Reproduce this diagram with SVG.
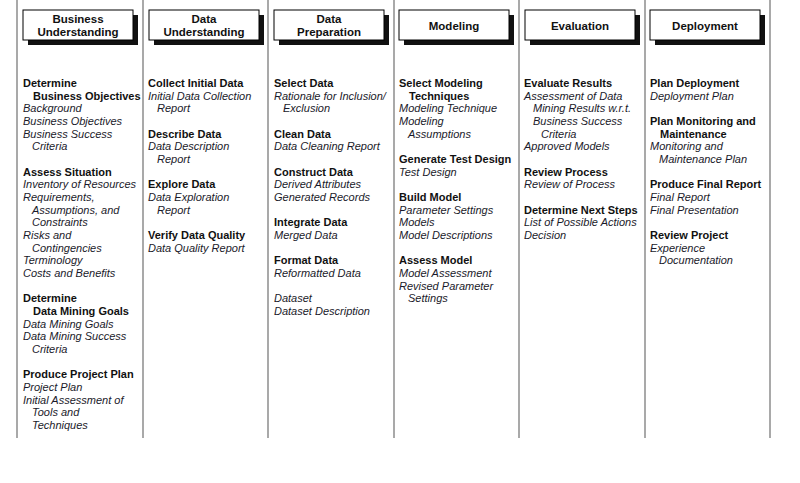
<svg xmlns="http://www.w3.org/2000/svg" width="800" height="483" viewBox="0 0 800 483">
<style>
.sep{stroke:#8c8c8c;stroke-width:1.5;fill:none}
.box{fill:#fff;stroke:#000;stroke-width:1}
.shadow{fill:#111}
.hd{font-family:"Liberation Sans",Arial,sans-serif;font-weight:bold;font-size:11.5px;fill:#111;text-anchor:middle}
.b{font-family:"Liberation Sans",Arial,sans-serif;font-weight:bold;font-size:11px;fill:#111}
.i{font-family:"Liberation Sans",Arial,sans-serif;font-style:italic;font-size:11px;fill:#1a1a2a}
</style>
<rect width="800" height="483" fill="#fff"/>
<g id="separators">
<line class="sep" x1="17" y1="0" x2="17" y2="438"/>
<line class="sep" x1="143" y1="0" x2="143" y2="438"/>
<line class="sep" x1="268" y1="0" x2="268" y2="438"/>
<line class="sep" x1="394" y1="0" x2="394" y2="438"/>
<line class="sep" x1="519" y1="0" x2="519" y2="438"/>
<line class="sep" x1="645" y1="0" x2="645" y2="438"/>
<line class="sep" x1="770" y1="0" x2="770" y2="438"/>
</g>

<g id="col-business">
<rect class="shadow" x="28" y="15" width="110" height="30"/>
<rect class="box" x="23" y="10" width="110" height="30"/>
<text class="hd" x="78" y="23">Business</text>
<text class="hd" x="78" y="36">Understanding</text>
<text class="b" x="23" y="87">Determine</text>
<text class="b" x="33" y="99.7">Business Objectives</text>
<text class="i" x="23" y="112.3">Background</text>
<text class="i" x="23" y="125">Business Objectives</text>
<text class="i" x="23" y="137.7">Business Success</text>
<text class="i" x="32" y="150.4">Criteria</text>
<text class="b" x="23" y="175.7">Assess Situation</text>
<text class="i" x="23" y="188.4">Inventory of Resources</text>
<text class="i" x="23" y="201">Requirements,</text>
<text class="i" x="32" y="213.7">Assumptions, and</text>
<text class="i" x="32" y="226.4">Constraints</text>
<text class="i" x="23" y="239">Risks and</text>
<text class="i" x="32" y="251.7">Contingencies</text>
<text class="i" x="23" y="264.4">Terminology</text>
<text class="i" x="23" y="277">Costs and Benefits</text>
<text class="b" x="23" y="302.4">Determine</text>
<text class="b" x="33" y="315">Data Mining Goals</text>
<text class="i" x="23" y="327.7">Data Mining Goals</text>
<text class="i" x="23" y="340.4">Data Mining Success</text>
<text class="i" x="32" y="353">Criteria</text>
<text class="b" x="23" y="378.4">Produce Project Plan</text>
<text class="i" x="23" y="391">Project Plan</text>
<text class="i" x="23" y="403.7">Initial Assessment of</text>
<text class="i" x="32" y="416.4">Tools and</text>
<text class="i" x="32" y="429">Techniques</text>
</g>

<g id="col-data-understanding">
<rect class="shadow" x="154" y="15" width="110" height="30"/>
<rect class="box" x="149" y="10" width="110" height="30"/>
<text class="hd" x="204" y="23">Data</text>
<text class="hd" x="204" y="36">Understanding</text>
<text class="b" x="148" y="87">Collect Initial Data</text>
<text class="i" x="148" y="99.7">Initial Data Collection</text>
<text class="i" x="157" y="112.3">Report</text>
<text class="b" x="148" y="137.7">Describe Data</text>
<text class="i" x="148" y="150.4">Data Description</text>
<text class="i" x="157" y="163">Report</text>
<text class="b" x="148" y="188.4">Explore Data</text>
<text class="i" x="148" y="201">Data Exploration</text>
<text class="i" x="157" y="213.7">Report</text>
<text class="b" x="148" y="239">Verify Data Quality</text>
<text class="i" x="148" y="251.7">Data Quality Report</text>
</g>

<g id="col-data-preparation">
<rect class="shadow" x="279" y="15" width="110" height="30"/>
<rect class="box" x="274" y="10" width="110" height="30"/>
<text class="hd" x="329" y="23">Data</text>
<text class="hd" x="329" y="36">Preparation</text>
<text class="b" x="274" y="87">Select Data</text>
<text class="i" x="274" y="99.7">Rationale for Inclusion/</text>
<text class="i" x="283" y="112.3">Exclusion</text>
<text class="b" x="274" y="137.7">Clean Data</text>
<text class="i" x="274" y="150.4">Data Cleaning Report</text>
<text class="b" x="274" y="175.7">Construct Data</text>
<text class="i" x="274" y="188.4">Derived Attributes</text>
<text class="i" x="274" y="201">Generated Records</text>
<text class="b" x="274" y="226.4">Integrate Data</text>
<text class="i" x="274" y="239">Merged Data</text>
<text class="b" x="274" y="264.4">Format Data</text>
<text class="i" x="274" y="277">Reformatted Data</text>
<text class="i" x="274" y="302.4">Dataset</text>
<text class="i" x="274" y="315">Dataset Description</text>
</g>

<g id="col-modeling">
<rect class="shadow" x="404" y="15" width="110" height="30"/>
<rect class="box" x="399" y="10" width="110" height="30"/>
<text class="hd" x="454" y="30">Modeling</text>
<text class="b" x="399" y="87">Select Modeling</text>
<text class="b" x="409" y="99.7">Techniques</text>
<text class="i" x="399" y="112.3">Modeling Technique</text>
<text class="i" x="399" y="125">Modeling</text>
<text class="i" x="408" y="137.7">Assumptions</text>
<text class="b" x="399" y="163">Generate Test Design</text>
<text class="i" x="399" y="175.7">Test Design</text>
<text class="b" x="399" y="201">Build Model</text>
<text class="i" x="399" y="213.7">Parameter Settings</text>
<text class="i" x="399" y="226.4">Models</text>
<text class="i" x="399" y="239">Model Descriptions</text>
<text class="b" x="399" y="264.4">Assess Model</text>
<text class="i" x="399" y="277">Model Assessment</text>
<text class="i" x="399" y="289.7">Revised Parameter</text>
<text class="i" x="408" y="302.4">Settings</text>
</g>

<g id="col-evaluation">
<rect class="shadow" x="530" y="15" width="110" height="30"/>
<rect class="box" x="525" y="10" width="110" height="30"/>
<text class="hd" x="580" y="30">Evaluation</text>
<text class="b" x="524" y="87">Evaluate Results</text>
<text class="i" x="524" y="99.7">Assessment of Data</text>
<text class="i" x="533" y="112.3">Mining Results w.r.t.</text>
<text class="i" x="533" y="125">Business Success</text>
<text class="i" x="541" y="137.7">Criteria</text>
<text class="i" x="524" y="150.4">Approved Models</text>
<text class="b" x="524" y="175.7">Review Process</text>
<text class="i" x="524" y="188.4">Review of Process</text>
<text class="b" x="524" y="213.7">Determine Next Steps</text>
<text class="i" x="524" y="226.4">List of Possible Actions</text>
<text class="i" x="524" y="239">Decision</text>
</g>

<g id="col-deployment">
<rect class="shadow" x="655" y="15" width="110" height="30"/>
<rect class="box" x="650" y="10" width="110" height="30"/>
<text class="hd" x="705" y="30">Deployment</text>
<text class="b" x="650" y="87">Plan Deployment</text>
<text class="i" x="650" y="99.7">Deployment Plan</text>
<text class="b" x="650" y="125">Plan Monitoring and</text>
<text class="b" x="660" y="137.7">Maintenance</text>
<text class="i" x="650" y="150.4">Monitoring and</text>
<text class="i" x="659" y="163">Maintenance Plan</text>
<text class="b" x="650" y="188.4">Produce Final Report</text>
<text class="i" x="650" y="201">Final Report</text>
<text class="i" x="650" y="213.7">Final Presentation</text>
<text class="b" x="650" y="239">Review Project</text>
<text class="i" x="650" y="251.7">Experience</text>
<text class="i" x="659" y="264.4">Documentation</text>
</g>
</svg>
